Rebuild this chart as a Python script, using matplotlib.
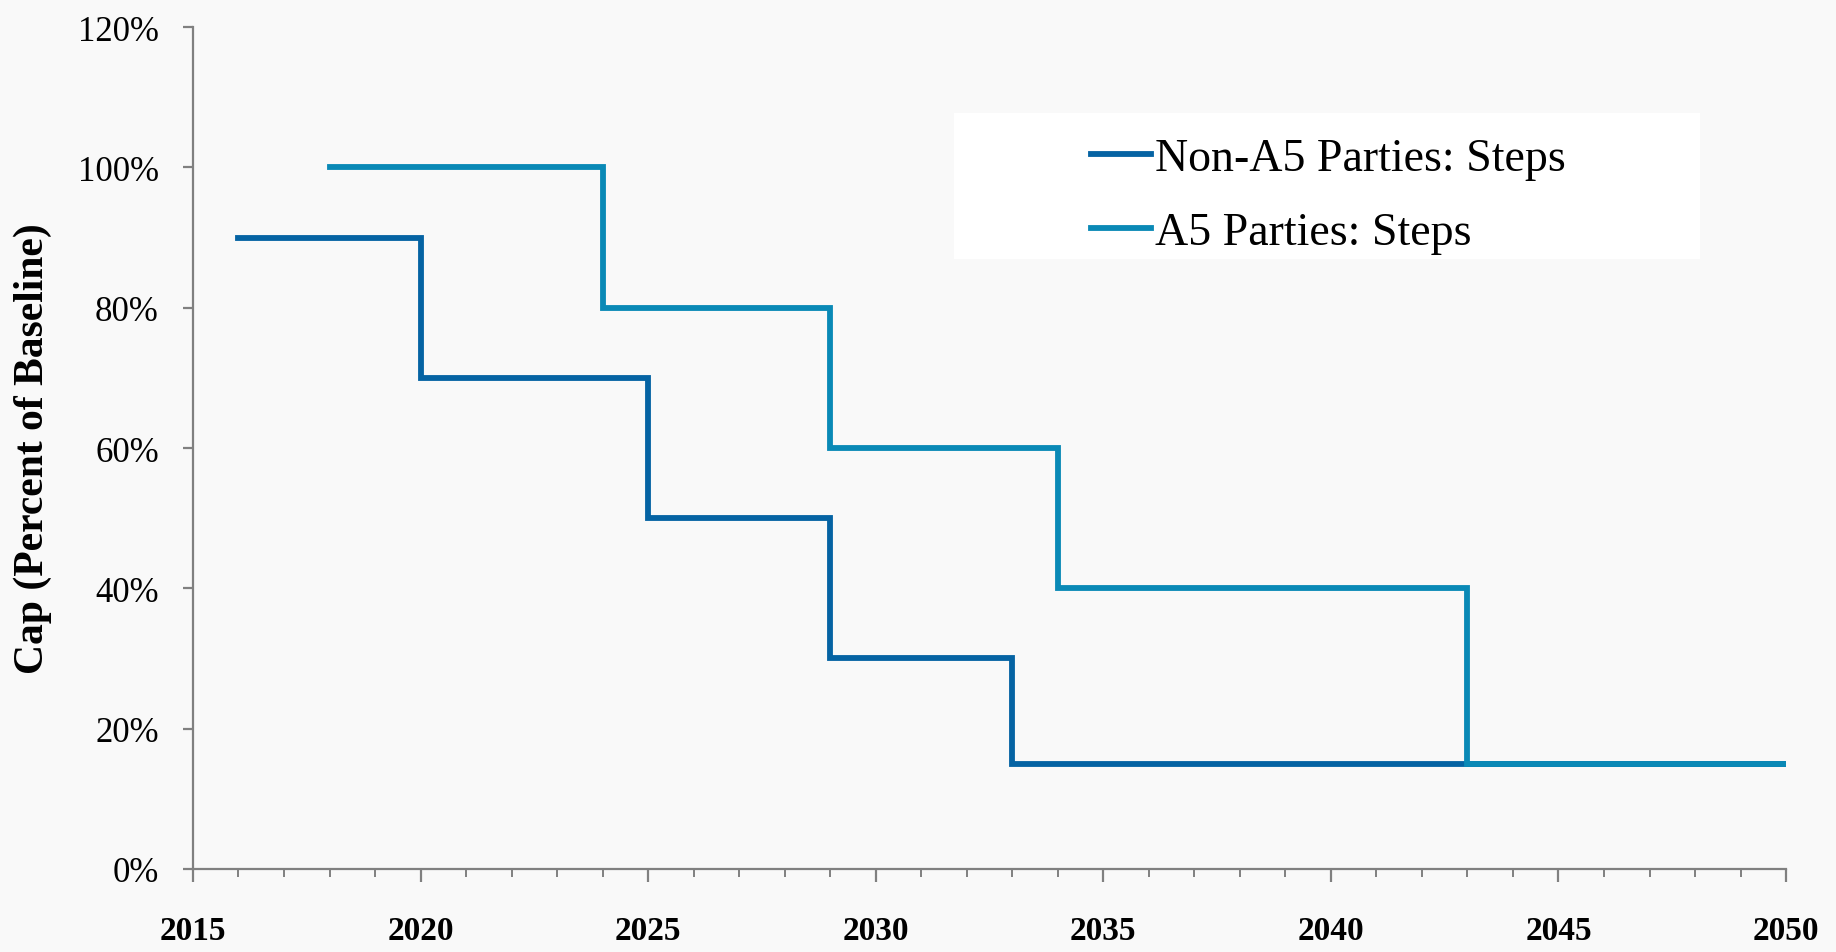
import matplotlib
matplotlib.use("Agg")
import matplotlib.pyplot as plt
from matplotlib.ticker import MultipleLocator, PercentFormatter
from matplotlib.patches import Rectangle

plt.rcParams['font.family'] = ['Liberation Serif', 'DejaVu Serif']

# yearly caps, fraction of baseline
non_a5_years = list(range(2016, 2051))
non_a5_cap = ([0.90] * 4 + [0.70] * 5 + [0.50] * 4 + [0.30] * 4 + [0.15] * 18)

a5_years = list(range(2018, 2051))
a5_cap = ([1.00] * 6 + [0.80] * 5 + [0.60] * 5 + [0.40] * 9 + [0.15] * 8)

labels = ["Non-A5 Parties: Steps", "A5 Parties: Steps"]
colors = ["#0563a3", "#0a89b6"]

fig = plt.figure(figsize=(18.36, 9.53), dpi=100, facecolor="#f9f9f9")
ax = fig.add_axes([0.1051, 0.0871, 0.8677, 0.8835])
ax.set_facecolor("none")

ax.step(non_a5_years, non_a5_cap, where="post", color=colors[0], lw=4.2,
        solid_joinstyle="miter", label=labels[0])
ax.step(a5_years, a5_cap, where="post", color=colors[1], lw=4.2,
        solid_joinstyle="miter", label=labels[1])

ax.set_xlim(2015, 2050)
ax.set_ylim(0, 1.2)
ax.xaxis.set_major_locator(MultipleLocator(5))
ax.xaxis.set_minor_locator(MultipleLocator(1))
ax.yaxis.set_major_locator(MultipleLocator(0.2))
ax.yaxis.set_major_formatter(PercentFormatter(1.0, decimals=0))

for side in ["top", "right"]:
    ax.spines[side].set_visible(False)
for side in ["left", "bottom"]:
    ax.spines[side].set_color("#808080")
    ax.spines[side].set_linewidth(1.6)

ax.tick_params(axis="y", which="major", direction="out", length=7.5, width=1.6,
               color="#808080", labelsize=25, pad=17)
ax.tick_params(axis="x", which="major", direction="out", length=9, width=1.6,
               color="#808080", labelsize=24, pad=24)
ax.tick_params(axis="x", which="minor", direction="out", length=5.5, width=1.4,
               color="#808080")
for t in ax.get_xticklabels():
    t.set_fontweight("bold")

ax.set_ylabel("Cap (Percent of Baseline)", fontsize=30, fontweight="bold", va="center")
ax.yaxis.set_label_coords(-0.1004, 0.5)

# white legend panel, behind the axes
fig.patches.append(Rectangle((954 / 1836, 1 - 260 / 953), 746 / 1836, 146 / 953,
                             transform=fig.transFigure, facecolor="white",
                             edgecolor="none", zorder=-1))
ax.legend(loc="upper left", bbox_to_anchor=(1068 / 1836, 1 - 116 / 953),
          bbox_transform=fig.transFigure, frameon=False, fontsize=33,
          borderpad=0, handlelength=1.3, handletextpad=0.1, labelspacing=0.68)

fig.savefig("out.png", dpi=100, facecolor=fig.get_facecolor())
